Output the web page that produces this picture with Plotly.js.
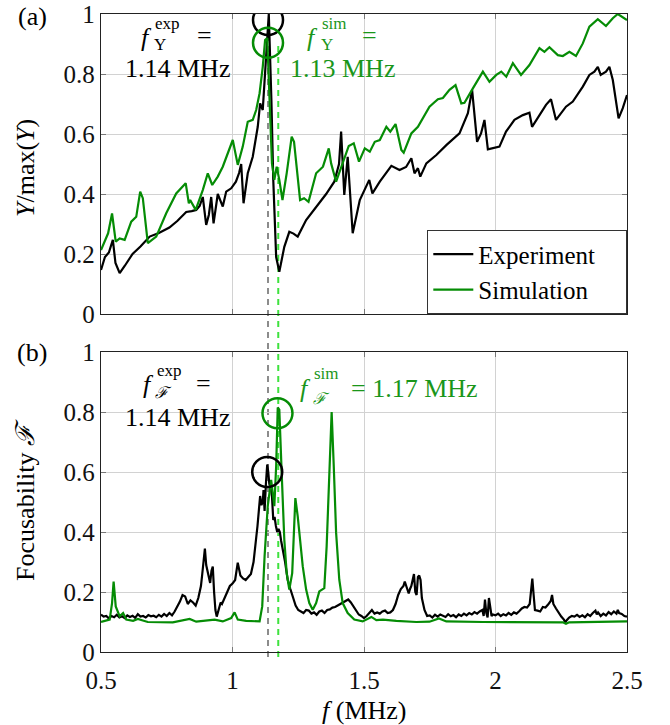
<!DOCTYPE html>
<html>
<head>
<meta charset="utf-8">
<script src="https://cdn.plot.ly/plotly-3.0.1.min.js"></script>
<style>html,body{margin:0;padding:0;background:#fff;}#chart{width:670px;height:725px;}</style>
</head>
<body>
<div id="chart"></div>
<script>
// ---------- DATA ----------
// Panel (a): normalized admittance Y/max(Y)
const expY_x = [0.50,0.515,0.53,0.545,0.555,0.571,0.59,0.62,0.65,0.685,0.72,0.76,0.79,0.824,0.845,0.862,0.875,0.887,0.9,0.91,0.919,0.928,0.944,0.963,0.976,0.995,1.013,1.025,1.033,1.042,1.058,1.077,1.096,1.105,1.115,1.128,1.138,1.148,1.155,1.166,1.178,1.197,1.216,1.232,1.248,1.28,1.318,1.356,1.387,1.405,1.413,1.425,1.438,1.457,1.484,1.52,1.532,1.56,1.604,1.635,1.66,1.68,1.692,1.705,1.714,1.737,1.775,1.813,1.863,1.895,1.911,1.93,1.945,1.958,1.971,1.99,2.015,2.04,2.072,2.104,2.129,2.139,2.173,2.192,2.211,2.23,2.268,2.294,2.332,2.357,2.376,2.389,2.4,2.42,2.433,2.446,2.468,2.484,2.50];
const expY_y = [0.147,0.19,0.205,0.247,0.17,0.136,0.16,0.20,0.225,0.258,0.27,0.288,0.31,0.34,0.343,0.347,0.36,0.39,0.297,0.33,0.39,0.302,0.40,0.358,0.408,0.419,0.441,0.47,0.50,0.369,0.469,0.524,0.624,0.702,0.68,0.88,1.0,0.71,0.447,0.19,0.141,0.224,0.274,0.268,0.258,0.313,0.358,0.40,0.441,0.50,0.608,0.397,0.524,0.269,0.38,0.447,0.402,0.441,0.494,0.48,0.49,0.519,0.469,0.486,0.458,0.502,0.53,0.563,0.602,0.669,0.747,0.574,0.602,0.647,0.549,0.552,0.558,0.608,0.647,0.663,0.671,0.624,0.669,0.697,0.716,0.647,0.691,0.708,0.758,0.797,0.808,0.824,0.797,0.808,0.824,0.78,0.652,0.686,0.73];
const simY_x = [0.50,0.527,0.542,0.556,0.571,0.59,0.615,0.634,0.649,0.659,0.678,0.71,0.748,0.786,0.822,0.834,0.839,0.86,0.887,0.906,0.923,0.944,0.963,0.986,1.001,1.02,1.039,1.058,1.077,1.09,1.103,1.115,1.124,1.132,1.14,1.15,1.159,1.168,1.178,1.19,1.206,1.225,1.234,1.257,1.272,1.289,1.318,1.344,1.366,1.375,1.394,1.419,1.442,1.461,1.481,1.503,1.522,1.541,1.56,1.585,1.60,1.62,1.642,1.651,1.68,1.705,1.749,1.781,1.80,1.825,1.848,1.87,1.882,1.914,1.952,1.977,2.003,2.022,2.041,2.066,2.097,2.129,2.167,2.186,2.205,2.237,2.256,2.281,2.306,2.332,2.357,2.389,2.42,2.446,2.465,2.50];
const simY_y = [0.213,0.269,0.335,0.241,0.252,0.247,0.308,0.324,0.408,0.386,0.236,0.258,0.336,0.402,0.436,0.369,0.38,0.347,0.413,0.469,0.43,0.458,0.491,0.547,0.58,0.497,0.558,0.641,0.647,0.68,0.736,0.824,0.913,0.92,0.724,0.502,0.447,0.491,0.447,0.38,0.469,0.591,0.574,0.38,0.386,0.374,0.469,0.491,0.552,0.502,0.441,0.502,0.56,0.569,0.508,0.552,0.541,0.574,0.58,0.624,0.608,0.633,0.547,0.538,0.602,0.624,0.691,0.716,0.72,0.747,0.763,0.702,0.704,0.752,0.808,0.774,0.797,0.808,0.791,0.836,0.797,0.83,0.886,0.874,0.889,0.863,0.86,0.874,0.86,0.902,0.958,0.983,0.96,0.986,1.0,0.98];

// Panel (b): focusability F
const expF_x = [0.50,0.51,0.52,0.53,0.54,0.55,0.56,0.57,0.58,0.59,0.60,0.61,0.62,0.63,0.64,0.65,0.66,0.67,0.68,0.69,0.70,0.71,0.72,0.73,0.74,0.75,0.76,0.77,0.78,0.79,0.80,0.81,0.82,0.83,0.84,0.85,0.86,0.87,0.88,0.885,0.895,0.90,0.905,0.91,0.915,0.92,0.925,0.93,0.935,0.94,0.95,0.955,0.96,0.97,0.975,0.98,0.99,1.00,1.01,1.02,1.025,1.03,1.04,1.05,1.06,1.07,1.08,1.085,1.09,1.095,1.10,1.105,1.11,1.115,1.118,1.122,1.127,1.132,1.136,1.14,1.145,1.15,1.155,1.16,1.165,1.17,1.175,1.18,1.185,1.19,1.20,1.205,1.21,1.22,1.23,1.24,1.25,1.26,1.27,1.28,1.29,1.30,1.31,1.32,1.33,1.34,1.35,1.36,1.37,1.38,1.39,1.40,1.41,1.42,1.43,1.44,1.45,1.46,1.47,1.48,1.49,1.50,1.51,1.52,1.53,1.54,1.55,1.56,1.57,1.58,1.59,1.60,1.61,1.62,1.63,1.64,1.65,1.655,1.66,1.67,1.675,1.68,1.685,1.69,1.695,1.70,1.705,1.71,1.715,1.72,1.73,1.74,1.75,1.76,1.77,1.78,1.79,1.80,1.81,1.82,1.83,1.84,1.85,1.86,1.87,1.88,1.89,1.90,1.91,1.92,1.93,1.94,1.95,1.955,1.96,1.965,1.97,1.975,1.98,1.985,1.99,2.00,2.01,2.02,2.03,2.04,2.05,2.06,2.07,2.08,2.09,2.10,2.11,2.12,2.13,2.135,2.14,2.145,2.15,2.16,2.17,2.18,2.19,2.20,2.21,2.215,2.22,2.23,2.24,2.25,2.26,2.265,2.27,2.28,2.29,2.30,2.31,2.32,2.33,2.34,2.35,2.36,2.37,2.38,2.385,2.39,2.40,2.41,2.42,2.43,2.44,2.45,2.46,2.465,2.47,2.48,2.49,2.50];
const expF_y = [0.125,0.118,0.12,0.112,0.12,0.116,0.124,0.115,0.119,0.113,0.122,0.117,0.121,0.114,0.126,0.118,0.12,0.115,0.123,0.119,0.121,0.116,0.124,0.118,0.127,0.12,0.13,0.122,0.135,0.15,0.168,0.19,0.185,0.16,0.172,0.165,0.155,0.18,0.22,0.26,0.345,0.29,0.27,0.24,0.23,0.27,0.285,0.2,0.14,0.118,0.15,0.165,0.16,0.18,0.19,0.2,0.22,0.228,0.24,0.298,0.27,0.255,0.245,0.24,0.25,0.26,0.3,0.35,0.38,0.42,0.46,0.52,0.49,0.5,0.54,0.47,0.56,0.625,0.6,0.56,0.55,0.52,0.44,0.45,0.42,0.40,0.41,0.40,0.37,0.35,0.30,0.27,0.24,0.21,0.185,0.155,0.14,0.135,0.13,0.14,0.138,0.128,0.132,0.124,0.135,0.138,0.13,0.14,0.142,0.148,0.15,0.155,0.16,0.165,0.17,0.175,0.165,0.152,0.14,0.125,0.12,0.113,0.12,0.13,0.14,0.128,0.132,0.128,0.135,0.138,0.13,0.132,0.14,0.16,0.19,0.21,0.22,0.235,0.22,0.195,0.21,0.22,0.24,0.26,0.20,0.19,0.25,0.255,0.24,0.18,0.14,0.12,0.122,0.115,0.124,0.118,0.125,0.12,0.117,0.126,0.119,0.123,0.116,0.125,0.12,0.128,0.122,0.13,0.125,0.133,0.128,0.135,0.14,0.12,0.175,0.13,0.115,0.18,0.14,0.12,0.125,0.122,0.128,0.12,0.126,0.122,0.13,0.124,0.132,0.128,0.136,0.145,0.15,0.148,0.16,0.20,0.245,0.19,0.14,0.138,0.135,0.15,0.148,0.158,0.17,0.19,0.16,0.145,0.13,0.118,0.108,0.098,0.105,0.115,0.12,0.118,0.124,0.117,0.122,0.116,0.126,0.12,0.13,0.138,0.125,0.132,0.12,0.128,0.122,0.133,0.126,0.135,0.128,0.14,0.13,0.127,0.12,0.118];
const simF_x = [0.50,0.533,0.542,0.548,0.556,0.571,0.584,0.596,0.622,0.64,0.659,0.678,0.773,0.837,0.862,0.932,0.963,0.995,1.008,1.02,1.052,1.103,1.113,1.122,1.134,1.147,1.159,1.166,1.172,1.178,1.187,1.197,1.206,1.216,1.227,1.233,1.239,1.248,1.258,1.267,1.28,1.292,1.305,1.318,1.33,1.349,1.358,1.368,1.377,1.385,1.394,1.406,1.419,1.438,1.463,1.495,1.515,1.528,1.547,1.572,1.623,1.699,1.749,1.785,1.813,1.952,2.256,2.268,2.28,2.50];
const simF_y = [0.10,0.108,0.163,0.235,0.152,0.119,0.13,0.108,0.104,0.11,0.105,0.10,0.099,0.11,0.101,0.108,0.102,0.113,0.132,0.108,0.104,0.102,0.152,0.319,0.486,0.574,0.486,0.619,0.815,0.808,0.597,0.374,0.263,0.208,0.263,0.374,0.513,0.452,0.363,0.286,0.208,0.163,0.141,0.163,0.202,0.213,0.352,0.619,0.80,0.619,0.397,0.241,0.163,0.13,0.108,0.102,0.11,0.117,0.106,0.108,0.104,0.10,0.101,0.112,0.102,0.10,0.099,0.094,0.099,0.102];

// Peak markers (frequency, value)
const peakY_exp = [1.135, 0.98];
const peakY_sim = [1.135, 0.904];
const peakF_exp = [1.132, 0.60];
const peakF_sim = [1.171, 0.796];
const fExpLine = 1.135;
const fSimLine = 1.174;

const legendNames = ['Experiment\u2003', 'Simulation\u2003'];
const xTicks = [0.5, 1, 1.5, 2, 2.5];
const xTickText = ['0.5', '1', '1.5', '2', '2.5'];
const yTicks = [0, 0.2, 0.4, 0.6, 0.8, 1];
const yTickText = ['0', '0.2', '0.4', '0.6', '0.8', '1'];

// ---------- STYLE ----------
const BLACK = '#000000';
const GREEN = '#058c05';
const GREEN_TXT = '#1a961a';
const LIME = '#3ee23e';
const GRAY = '#8c8c8c';
const FONT = 'Liberation Serif, Times New Roman, serif';

const W = 670, H = 725, ML = 101, MR = 43, MT = 14, MB = 73;
const PW = W - ML - MR, PH = H - MT - MB;
const px = v => (v - ML) / PW;           // pixel x -> paper
const py = v => (H - MB - v) / PH;       // pixel y -> paper
const topDom = [py(314), 1];
const botDom = [0, py(352)];

const traces = [
  {x: expY_x, y: expY_y, xaxis: 'x2', yaxis: 'y2', mode: 'lines', name: legendNames[0],
   line: {color: BLACK, width: 2.2}, showlegend: true},
  {x: simY_x, y: simY_y, xaxis: 'x2', yaxis: 'y2', mode: 'lines', name: legendNames[1],
   line: {color: GREEN, width: 2.2}, showlegend: true},
  {x: expF_x, y: expF_y, xaxis: 'x', yaxis: 'y', mode: 'lines', line: {color: BLACK, width: 2.2}, showlegend: false},
  {x: simF_x, y: simF_y, xaxis: 'x', yaxis: 'y', mode: 'lines', line: {color: GREEN, width: 2.2}, showlegend: false},
  {x: [peakY_exp[0]], y: [peakY_exp[1]], xaxis: 'x2', yaxis: 'y2', mode: 'markers', showlegend: false,
   marker: {symbol: 'circle-open', size: 30, color: BLACK, line: {width: 2.5, color: BLACK}}},
  {x: [peakY_sim[0]], y: [peakY_sim[1]], xaxis: 'x2', yaxis: 'y2', mode: 'markers', showlegend: false,
   marker: {symbol: 'circle-open', size: 30, color: GREEN, line: {width: 2.5, color: GREEN}}},
  {x: [peakF_exp[0]], y: [peakF_exp[1]], xaxis: 'x', yaxis: 'y', mode: 'markers', showlegend: false,
   marker: {symbol: 'circle-open', size: 30, color: BLACK, line: {width: 2.5, color: BLACK}}},
  {x: [peakF_sim[0]], y: [peakF_sim[1]], xaxis: 'x', yaxis: 'y', mode: 'markers', showlegend: false,
   marker: {symbol: 'circle-open', size: 30, color: GREEN, line: {width: 2.5, color: GREEN}}}
];

const axisCommon = {
  range: [0.5, 2.5], showgrid: true, gridcolor: '#d2d2d2', gridwidth: 1,
  showline: true, linecolor: '#222', linewidth: 1.3, mirror: 'ticks',
  ticks: 'inside', ticklen: 5, tickcolor: '#777', tickwidth: 1,
  zeroline: false, tickfont: {family: FONT, size: 25, color: '#111'}
};

function ann(text, x, y, opts) {
  return Object.assign({text: text, x: px(x), y: py(y), xref: 'paper', yref: 'paper',
    showarrow: false, xanchor: 'center', yanchor: 'middle', font: {family: FONT, size: 26, color: BLACK}}, opts || {});
}
const subF = 17;
const annotations = [
  ann('(a)', 32, 16),
  ann('(b)', 32, 352),
  ann('<i>Y</i>/max(<i>Y</i>)', 25, 168, {textangle: -90}),
  ann('Focusability <i>ℱ</i>', 25, 500, {textangle: -90}),
  ann('<i>f</i> (MHz)', 364, 710),
  // (a) experiment
  ann('<i>f</i>', 146, 37),
  ann('exp', 153, 24, {xanchor: 'left', font: {family: FONT, size: subF, color: BLACK}}),
  ann('Y', 152, 45, {xanchor: 'left', font: {family: FONT, size: subF, color: BLACK}}),
  ann('=', 204, 35),
  ann('1.14 MHz', 177, 69),
  // (a) simulation
  ann('<i>f</i>', 312, 37, {font: {family: FONT, size: 26, color: GREEN_TXT}}),
  ann('sim', 320, 24, {xanchor: 'left', font: {family: FONT, size: subF, color: GREEN_TXT}}),
  ann('Y', 319, 45, {xanchor: 'left', font: {family: FONT, size: subF, color: GREEN_TXT}}),
  ann('=', 369, 35, {font: {family: FONT, size: 26, color: GREEN_TXT}}),
  ann('1.13 MHz', 342, 69, {font: {family: FONT, size: 26, color: GREEN_TXT}}),
  // (b) experiment
  ann('<i>f</i>', 148, 384),
  ann('exp', 155, 370, {xanchor: 'left', font: {family: FONT, size: subF, color: BLACK}}),
  ann('<i>ℱ</i>', 153, 392, {xanchor: 'left', font: {family: FONT, size: 16, color: BLACK}}),
  ann('=', 203, 383),
  ann('1.14 MHz', 177, 417),
  // (b) simulation
  ann('<i>f</i>', 305, 388, {font: {family: FONT, size: 26, color: GREEN_TXT}}),
  ann('sim', 312, 373, {xanchor: 'left', font: {family: FONT, size: subF, color: GREEN_TXT}}),
  ann('<i>ℱ</i>', 311, 398, {xanchor: 'left', font: {family: FONT, size: 16, color: GREEN_TXT}}),
  ann('= 1.17 MHz', 349, 388, {xanchor: 'left', font: {family: FONT, size: 26, color: GREEN_TXT}})
];

const shapes = [
  {type: 'line', xref: 'x', yref: 'paper', x0: fExpLine, x1: fExpLine, y0: py(657), y1: py(24),
   line: {color: GRAY, width: 2, dash: '6px,5px'}, layer: 'below'},
  {type: 'line', xref: 'x', yref: 'paper', x0: fSimLine, x1: fSimLine, y0: py(657), y1: py(44),
   line: {color: LIME, width: 2, dash: '6px,5px'}, layer: 'below'}
];

const layout = {
  width: W, height: H,
  margin: {l: ML, r: MR, t: MT, b: MB, pad: 0},
  paper_bgcolor: '#ffffff', plot_bgcolor: 'rgba(0,0,0,0)',
  font: {family: FONT, size: 25, color: BLACK},
  xaxis: Object.assign({}, axisCommon, {anchor: 'y', tickvals: xTicks, ticktext: xTickText, ticklabelstandoff: 6}),
  xaxis2: Object.assign({}, axisCommon, {anchor: 'y2', matches: 'x', tickvals: xTicks, showticklabels: false}),
  yaxis: Object.assign({}, axisCommon, {domain: botDom, anchor: 'x', range: [0, 1], tickvals: yTicks, ticktext: yTickText}),
  yaxis2: Object.assign({}, axisCommon, {domain: topDom, anchor: 'x2', range: [0, 1], tickvals: yTicks, ticktext: yTickText}),
  showlegend: true,
  legend: {x: 1, xanchor: 'right', y: topDom[0], yanchor: 'bottom', bgcolor: '#ffffff',
    bordercolor: '#333', borderwidth: 1.3, font: {family: FONT, size: 25, color: BLACK},
    itemwidth: 40, tracegroupgap: 0},
  annotations: annotations,
  shapes: shapes
};

Plotly.newPlot('chart', traces, layout, {displayModeBar: false, staticPlot: true});
</script>
</body>
</html>
